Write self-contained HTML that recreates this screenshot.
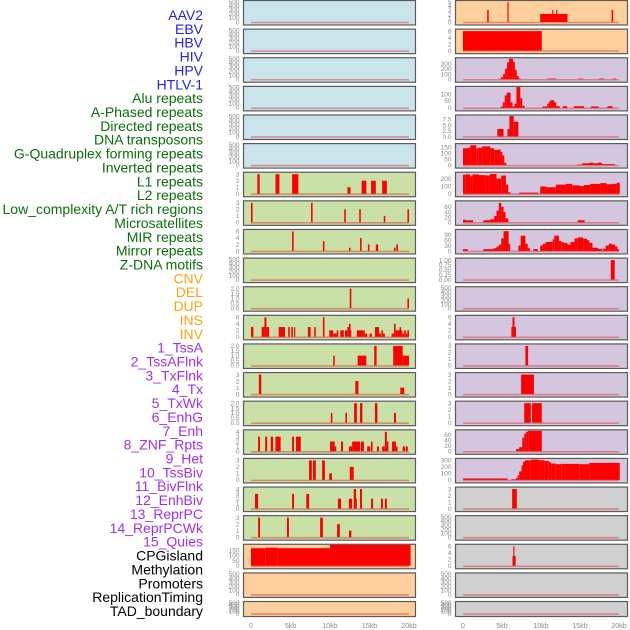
<!DOCTYPE html>
<html><head><meta charset="utf-8">
<style>
html,body{margin:0;padding:0;background:#fff;width:630px;height:630px;overflow:hidden}
svg{display:block}
text{font-family:"Liberation Sans",sans-serif}
</style></head>
<body>
<svg id="chart" width="630" height="630" viewBox="0 0 630 630" xmlns="http://www.w3.org/2000/svg"></svg>
<script>
// ---- labels ----
const trackLabels = ["AAV2","EBV","HBV","HIV","HPV","HTLV-1","Alu repeats","A-Phased repeats","Directed repeats","DNA transposons","G-Quadruplex forming repeats","Inverted repeats","L1 repeats","L2 repeats","Low_complexity A/T rich regions","Microsatellites","MIR repeats","Mirror repeats","Z-DNA motifs","CNV","DEL","DUP","INS","INV","1_TssA","2_TssAFlnk","3_TxFlnk","4_Tx","5_TxWk","6_EnhG","7_Enh","8_ZNF_Rpts","9_Het","10_TssBiv","11_BivFlnk","12_EnhBiv","13_ReprPC","14_ReprPCWk","15_Quies","CPGisland","Methylation","Promoters","ReplicationTiming","TAD_boundary"];
const labelGroupSizes = [6,13,5,15,5];
const labelGroupColors = ["#2222e8","#0b6e0b","#ffa010","#a030f0","#000000"];
const xTickValues = [0,5,10,15,20];
const xTickLabels = ["0","5kb","10kb","15kb","20kb"];

// ---- left column panel data: [startKb, endKb, value] ----
const L07 = [[0.8,1.1,3],[3.1,3.6,3],[5.2,6.0,3],[12.2,12.6,1],[14.0,14.6,2],[15.2,15.8,2],[16.6,17.2,2]];
const L08 = [[0,0.2,3],[7.6,7.8,3],[11.8,12.0,2],[13.7,13.9,2],[16.8,17.0,1],[19.8,20,2]];
const L09 = [[5.2,5.4,6],[9.1,9.3,3],[12.4,12.6,1],[13.8,14.0,4],[14.8,15.0,2],[15.8,16.1,2],[18.1,18.3,1],[18.4,18.6,2]];
const L11 = [[12.5,12.7,2],[19.8,20,1]];
const L12 = [[0,0.3,3],[1.35,1.7,3],[1.7,1.95,6],[1.95,2.3,3],[3.5,4.3,3],[4.7,4.9,3],[5.1,5.3,3],[5.45,5.6,3],[7.2,7.55,3],[8.0,8.2,3],[9.1,9.3,6],[9.9,10.4,2],[10.4,10.85,1],[10.85,11.05,2],[11.3,11.75,2],[11.9,12.2,2],[12.2,12.4,3],[12.4,12.6,4],[12.6,12.7,2],[13.4,14.2,2],[14.2,14.4,2],[14.4,14.7,1],[15.0,15.3,1],[15.7,16.2,3],[16.2,16.45,1],[16.5,16.7,2],[16.7,16.95,1],[17.8,18.1,1],[18.1,18.3,4],[18.3,18.8,2],[18.8,19.0,3],[19.0,19.15,2],[19.15,19.4,1],[19.4,19.6,2],[19.6,19.8,1],[19.8,20.0,2]];
const L13 = [[10.4,10.6,1],[13.5,14.6,1],[15.6,15.9,2],[18.0,19.2,2],[19.2,20.0,1]];
const L14 = [[1.0,1.3,3],[13.2,13.6,2],[18.9,19.4,1]];
const L15 = [[10.1,10.3,1],[11.95,12.15,1],[13.05,13.4,2],[13.8,14.1,2],[15.7,16.0,2],[18.1,18.35,1]];
const L16 = [[0.9,1.15,3],[1.8,2.05,3],[2.5,2.8,3],[3.1,3.75,3],[5.2,5.45,3],[5.7,6.3,3],[10.0,10.25,2],[10.25,10.6,2],[10.6,10.8,1],[11.4,11.65,2],[12.4,12.8,1],[12.8,13.8,2],[13.9,14.3,2],[14.7,15.1,1],[15.2,15.4,2],[15.95,16.2,1],[16.6,16.95,1],[16.95,17.2,4],[17.2,17.4,2],[17.85,18.35,2],[18.35,18.55,1],[19.2,19.5,1],[19.6,19.85,1]];
const L17 = [[7.35,7.7,3],[7.85,8.2,3],[9.0,9.35,3],[9.9,10.25,1],[12.5,13.0,2]];
const L18 = [[0.5,0.9,3],[5.2,5.45,3],[7.0,7.35,3],[11.0,11.4,2],[12.4,12.8,2],[13.0,13.3,4],[13.3,13.4,2],[13.8,14.05,4],[15.2,15.45,2],[16.45,16.7,2],[16.95,17.2,2]];
const L19 = [[0.9,1.15,3],[4.55,4.8,3],[8.75,9.1,3],[10.9,11.25,2],[12.4,12.7,1]];
const L20 = [[0,1.8,167],[1.8,3.4,172],[3.4,10.0,167],[10.0,20.2,210]];

// ---- right column panel data ----
const R01 = [[3.1,3.3,3],[5.7,5.85,5],[9.9,13.4,2],[11.45,11.6,3],[11.95,12.1,3],[19.05,19.25,3]];
const R02 = [[0,10.1,6]];
const R03 = [[4.65,4.9,10],[4.9,5.15,40],[5.15,5.4,100],[5.4,5.65,200],[5.65,5.9,320],[5.9,6.4,390],[6.4,6.65,330],[6.65,6.9,180],[6.9,7.15,60],[7.15,7.4,15],[10.8,11.95,12],[14.75,15.4,12],[17.4,18.1,12],[19.2,19.6,12]];
const R04 = [[4.85,5.1,10],[5.1,5.35,40],[5.35,5.6,90],[5.6,6.1,110],[6.1,6.35,40],[6.35,6.6,10],[6.6,6.85,30],[6.85,7.35,150],[7.35,7.6,70],[7.6,7.9,15],[10.2,10.8,10],[10.8,11.0,30],[11.0,11.2,45],[11.2,11.7,55],[11.7,11.95,40],[11.95,12.4,12],[12.8,13.35,12],[14.2,15.5,12],[16.4,17.4,10],[18.5,19.2,12]];
const R05 = [[4.4,5.2,3.3],[5.7,5.95,3.3],[5.95,6.5,9],[6.5,7.1,6.5]];
const R06 = [[0,0.7,140],[0.7,0.95,145],[0.95,1.7,165],[1.7,1.95,140],[1.95,2.45,145],[2.45,3.5,155],[3.5,4.0,140],[4.0,4.55,125],[4.55,4.8,130],[4.8,5.05,110],[5.05,5.3,80],[5.3,5.55,20],[14.7,15.3,5],[15.3,16.2,15],[16.2,16.7,20],[16.7,17.3,15],[17.3,17.8,20],[17.8,19.5,8]];
const R07 = [[0,0.35,250],[0.35,0.9,255],[0.9,1.2,230],[1.2,2.05,255],[2.05,2.9,245],[2.9,3.45,240],[3.45,4.3,260],[4.3,4.9,200],[4.9,5.5,240],[5.5,5.8,120],[5.8,6.1,20],[7.2,9.6,15],[9.9,10.7,95],[10.7,11.9,85],[11.9,13.2,120],[13.2,14.0,130],[14.0,15.0,110],[15.0,15.5,100],[15.5,16.3,115],[16.3,17.6,130],[17.6,18.4,140],[18.4,19.1,125],[19.1,19.7,130],[19.7,20.1,145]];
const R08 = [[0,0.4,10],[0.4,1.3,8],[2.6,3.5,8],[3.5,4.0,12],[4.0,4.3,25],[4.3,4.6,45],[4.6,4.9,75],[4.9,5.2,60],[5.2,5.45,40],[5.45,5.8,15],[14.7,15.6,8]];
const R09 = [[0,0.6,10],[2.6,3.9,10],[3.9,4.3,15],[4.3,4.6,25],[4.6,4.9,35],[4.9,5.2,70],[5.2,5.85,110],[5.85,6.05,40],[7.1,7.4,30],[7.4,8.0,85],[8.0,8.3,40],[8.3,8.6,15],[9.0,9.6,10],[9.9,10.2,30],[10.2,10.6,40],[10.6,11.5,50],[11.5,11.7,65],[11.7,12.3,85],[12.3,12.6,55],[12.6,12.9,50],[12.9,13.4,45],[13.4,13.8,35],[13.8,14.3,50],[14.3,14.7,70],[14.7,15.4,75],[15.4,15.9,68],[15.9,16.2,60],[16.2,16.6,45],[16.6,17.3,18],[17.3,17.8,12],[17.9,18.3,12],[18.3,18.7,30],[18.7,19.1,40],[19.1,19.5,35],[19.5,19.8,25],[19.8,20.0,10]];
const R10 = [[18.95,19.45,1]];
const R12 = [[6.2,6.35,3],[6.35,6.6,6],[6.6,6.8,3]];
const R13 = [[8.0,8.35,3]];
const R14 = [[7.45,9.1,3]];
const R15 = [[7.85,8.7,3],[8.85,10.1,3]];
const R16 = [[6.8,7.2,8],[7.2,7.6,15],[7.6,7.85,50],[7.85,8.1,65],[8.1,8.35,72],[8.35,10.1,75]];
const R17 = [[0,5.7,22],[6.2,6.8,10],[6.8,7.0,30],[7.0,7.2,70],[7.2,7.5,130],[7.5,7.7,220],[7.7,7.95,280],[7.95,8.7,300],[8.7,9.8,310],[9.8,10.4,300],[10.4,11.0,290],[11.0,11.3,270],[11.3,11.9,250],[11.9,12.6,240],[12.6,14.9,245],[14.9,16.2,240],[16.2,20.1,260]];
const R18 = [[6.3,6.9,3]];
const R20 = [[6.35,6.75,3],[6.45,6.6,6]];

const EMPTY = [];
const leftData = [EMPTY,EMPTY,EMPTY,EMPTY,EMPTY,EMPTY,L07,L08,L09,EMPTY,L11,L12,L13,L14,L15,L16,L17,L18,L19,L20,EMPTY,EMPTY];
const rightData = [R01,R02,R03,R04,R05,R06,R07,R08,R09,R10,EMPTY,R12,R13,R14,R15,R16,R17,R18,EMPTY,R20,EMPTY,EMPTY];
const emptyTicks = [0,100,200,300,400,500];
const leftMax = [500,500,500,500,500,500,3.15,3.15,6.3,500,2.1,6.3,2.1,3.15,2.1,4.2,3.15,4.2,3.15,195,500,500];
const rightMax = [5.1,6.3,390,148,9,170,270,79,114,1.05,500,6.3,3.15,3.15,3.15,75,313,3.15,500,6.3,500,500];
const leftTicks = [emptyTicks,emptyTicks,emptyTicks,emptyTicks,emptyTicks,emptyTicks,[0,1,2,3],[0,1,2,3],[0,2,4,6],emptyTicks,["0.0","0.5","1.0","1.5","2.0"],[0,2,4,6],["0.0","0.5","1.0","1.5","2.0"],[0,1,2,3],["0.0","0.5","1.0","1.5","2.0"],[0,1,2,3,4],[0,1,2,3],[0,1,2,3,4],[0,1,2,3],[0,50,100,150],emptyTicks,emptyTicks];
const rightTicks = [[0,1,2,3,4,5],[0,2,4,6],[0,100,200,300],[0,50,100],["0.0","2.5","5.0","7.5"],[0,50,100,150],[0,100,200],[0,20,40,60],[0,30,60,90],["0.00","0.25","0.50","0.75","1.00"],emptyTicks,[0,2,4,6],[0,1,2,3],[0,1,2,3],[0,1,2,3],[0,20,40,60],[0,100,200,300],[0,1,2,3],emptyTicks,[0,2,4,6],emptyTicks,emptyTicks];
const leftBg = ["b","b","b","b","b","b","g","g","g","g","g","g","g","g","g","g","g","g","g","o","o","o"];
const rightBg = ["o","o","p","p","p","p","p","p","p","p","p","p","p","p","p","p","p","y","y","y","y","y"];
const bgColor = {b:"#c9e4eb",g:"#c9e1a7",o:"#fed09e",p:"#d5c6e0",y:"#d0d0d0"};

const NS = "http://www.w3.org/2000/svg";
const svg = document.getElementById("chart");
function mk(tag, attrs, parent){const e=document.createElementNS(NS,tag);for(const k in attrs)e.setAttribute(k,attrs[k]);(parent||svg).appendChild(e);return e;}

// labels
let li = 0;
labelGroupSizes.forEach((n,g)=>{
  for(let k=0;k<n;k++){
    const t = mk("text",{x:203,y:15+li*13.86+5,"text-anchor":"end","font-size":14,fill:labelGroupColors[g]});
    t.textContent = trackLabels[li];
    
    
    li++;
  }
});

function drawPanel(col,row,data,ymax,ticks,bg){
  const px = col===0?243.5:455.5, pw=172;
  const top = row*28.62+0.5;
  const h = row===21?15:24.5;
  const y0 = top+h-3, yt = top+1;
  const xs = col===0 ? (kb=>251+kb*7.9) : (kb=>463+kb*7.8);
  const ys = v => y0 - Math.min(v,ymax*1.02)/ymax*(y0-yt);
  const g = mk("g",{});
  
  
  const r = mk("rect",{x:px,y:top,width:pw,height:h,fill:bgColor[bg],stroke:"#5a5a5a","stroke-width":1.2},g);
  
  
  const cp = "clip"+col+"_"+row;
  const cl = mk("clipPath",{id:cp},g); mk("rect",{x:px,y:top,width:pw,height:h},cl);
  const bars = mk("g",{"clip-path":"url(#"+cp+")"},g);
  data.forEach(s=>{
    const b = mk("rect",{x:xs(s[0]),y:ys(s[2]),width:Math.max(0.8,xs(s[1])-xs(s[0])),height:y0-ys(s[2]),fill:"#ff0000"},bars);
    
    
  });
  const base = mk("line",{x1:xs(0),x2:xs(20),y1:y0+0.5,y2:y0+0.5,stroke:"rgba(220,40,40,0.45)","stroke-width":1.6},g);
  
  
  const tmax = ymax===500?500:ymax;
  ticks.forEach(tv=>{
    const v = parseFloat(tv);
    const ty = ymax===500 ? y0 - v/500*(y0-yt) : ys(v);
    const t = mk("text",{x:px-4,y:ty+2.3,"text-anchor":"end","font-size":6.5,fill:"#8a8a8a"},g);
    t.textContent = tv;
    
    
  });
}
for(let r=0;r<22;r++){
  drawPanel(0,r,leftData[r],leftMax[r],leftTicks[r],leftBg[r]);
  drawPanel(1,r,rightData[r],rightMax[r],rightTicks[r],rightBg[r]);
}
// x axes
[0,1].forEach(col=>{
  const xs = col===0 ? (kb=>251+kb*7.9) : (kb=>463+kb*7.8);
  xTickValues.forEach((v,i)=>{
    const t = mk("text",{x:xs(v),y:628,"text-anchor":"middle","font-size":7,fill:"#8a8a8a"});
    t.textContent = xTickLabels[i];
    
    
  });
});
</script>
</body></html>
